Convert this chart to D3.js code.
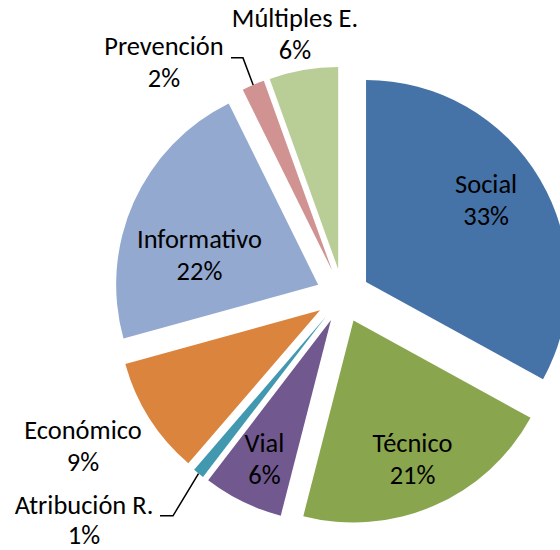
<!DOCTYPE html>
<html>
<head>
<meta charset="utf-8">
<script src="https://cdn.jsdelivr.net/npm/d3@7"></script>
<style>
html,body{margin:0;padding:0;background:#fff;overflow:hidden;}
svg{display:block;}
text{font-family:Calibri, Carlito, Lato, sans-serif;fill:#000;}
</style>
</head>
<body>
<svg id="chart" width="560" height="550"></svg>
<script>
// ---- data ----
const categories = ["Social","Técnico","Vial","Atribución R.","Económico","Informativo","Prevención","Múltiples E."];
const values = [33.0, 21.0, 6.4, 0.9, 9.4, 22.0, 1.8, 5.5];
const colors = ["#4572A7","#89A54E","#71588F","#4198AF","#DB843D","#93A9CF","#D19392","#B9CD96"];

// ---- layout ----
const W = 560, H = 550;
const cx = 342.8, cy = 295.7, R = 202, explode = 27;
const labelR = 150;
// label placement: inside labels relative to centroid, outside relative to arc midpoint
const labelCfg = [
  {inside:true,  dx:-9,   dy:-12.6},
  {inside:true,  dx:-0.6, dy:-6.2},
  {inside:true,  dx:-1,   dy:-3},
  {inside:false, dx:-114.5, dy:40.3, gap:30, leader:[[-25.5,42.3],[-38.5,42.3]]},
  {inside:false, dx:-66.5, dy:20.5},
  {inside:true,  dx:18.2, dy:24.6},
  {inside:false, dx:-89.2, dy:-29.5, leader:[[-10.2,-27.1],[-22.2,-27.1]]},
  {inside:false, dx:-8.5, dy:-43}
];
const lineGap = 32;

const svg = d3.select("#chart");
const g = svg.append("g").attr("transform", `translate(${cx},${cy})`);

const total = d3.sum(values);
const data = categories.map((c,i)=>({name:c, value:values[i], color:colors[i], cfg:labelCfg[i]}));
const pie = d3.pie().sort(null).value(d=>d.value).startAngle(0).endAngle(2*Math.PI);
const arcs = pie(data);
const arc = d3.arc().innerRadius(0).outerRadius(R);
const labelArc = d3.arc().innerRadius(labelR).outerRadius(labelR);

function off(a, r){ const m=(a.startAngle+a.endAngle)/2; return [Math.sin(m)*r, -Math.cos(m)*r]; }

const slices = g.selectAll("g.slice").data(arcs).join("g")
  .attr("class","slice")
  .attr("transform", d=>{ const o=off(d,explode); return `translate(${o[0]},${o[1]})`; });

slices.append("path").attr("d", arc).attr("fill", d=>d.data.color);

// font fit: target width of "Informativo" ~125px
const probe = svg.append("text").attr("font-size",100).text("Informativo");
const pw = probe.node().getComputedTextLength();
probe.remove();
const fs = 100*125/pw;

slices.each(function(d){
  const s = d3.select(this);
  const c = d.data.cfg;
  let base;
  if (c.inside) {
    base = labelArc.centroid(d);
  } else {
    base = off(d, R);
  }
  if (c.leader) {
    const pts = [base].concat(c.leader.map(p=>[base[0]+p[0], base[1]+p[1]]));
    s.append("path").attr("d", d3.line()(pts)).attr("fill","none").attr("stroke","#000").attr("stroke-width",1.5);
  }
  const pct = Math.round(d.data.value*100/total) + "%";
  const gap = c.gap || lineGap;
  const t = s.append("text").attr("text-anchor","middle").attr("font-size",fs)
    .attr("x", base[0]+c.dx).attr("y", base[1]+c.dy);
  t.append("tspan").attr("x", base[0]+c.dx).attr("y", base[1]+c.dy).text(d.data.name);
  t.append("tspan").attr("x", base[0]+c.dx).attr("y", base[1]+c.dy+gap).text(pct);
});
</script>
</body>
</html>
